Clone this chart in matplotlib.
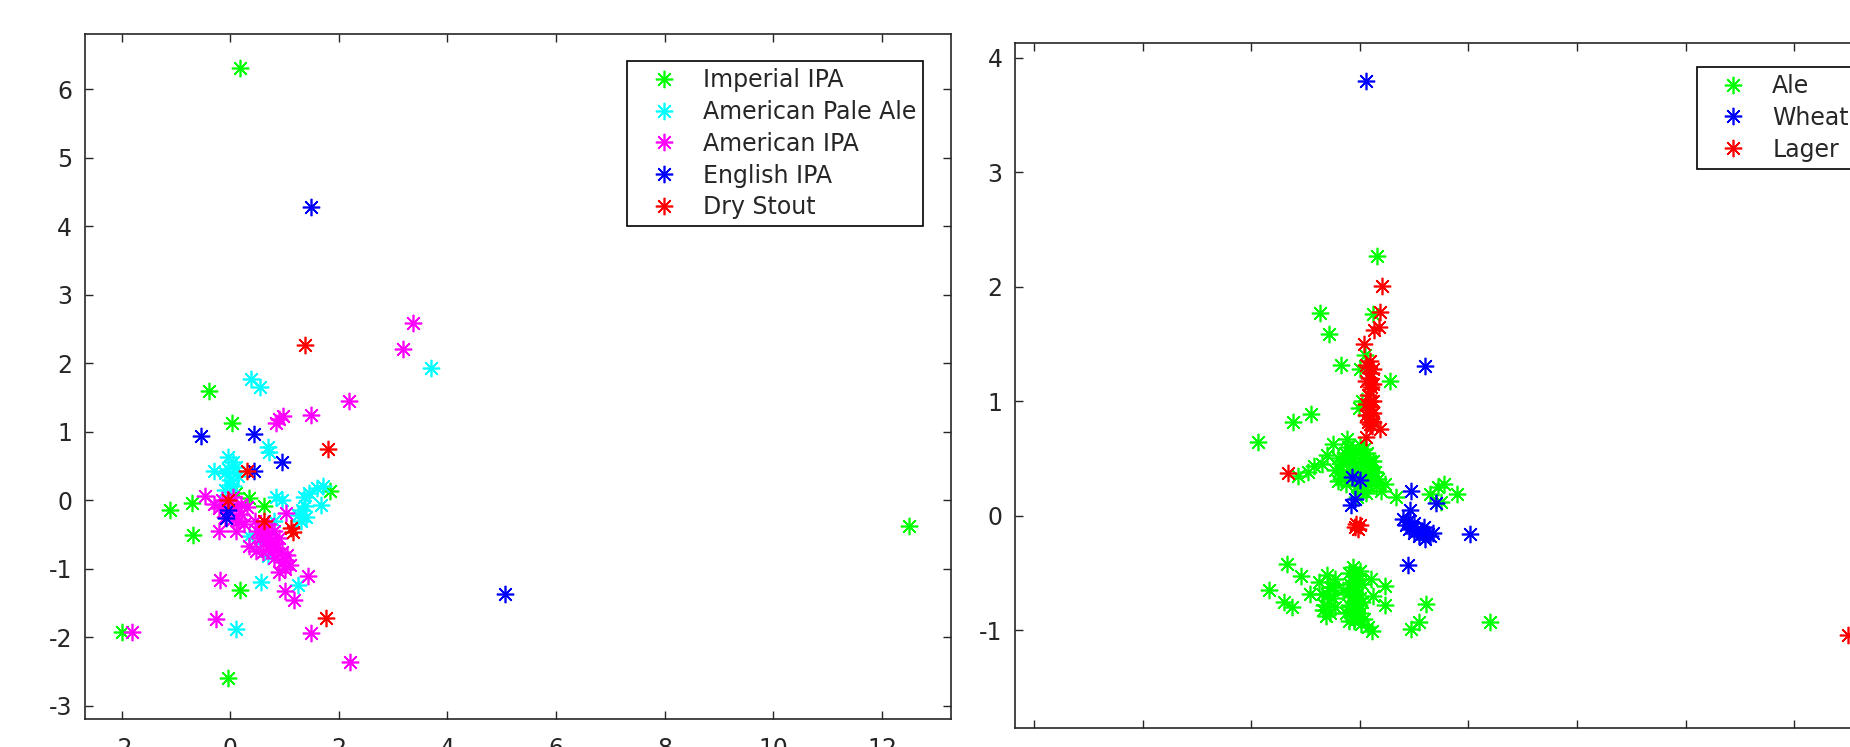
import numpy as np
import matplotlib
matplotlib.use("Agg")
import matplotlib.pyplot as plt

plt.rcParams['font.family'] = ['DejaVu Sans']
plt.rcParams['axes.unicode_minus'] = False

# ---- left panel: beer styles ----
imperial_ipa = [(0.18, 6.31), (-0.40, 1.60), (0.04, 1.12), (-1.11, -0.14), (-0.71, -0.04),
                (-0.68, -0.51), (0.18, -1.31), (-0.04, -2.60), (1.84, 0.14), (0.35, 0.03),
                (0.63, -0.08), (-2.00, -1.93), (12.50, -0.38), (0.10, 0.10)]
american_pale_ale = [(3.69, 1.93), (0.38, 1.77), (0.55, 1.65), (0.69, 0.78), (0.72, 0.70),
                     (-0.05, 0.63), (-0.30, 0.43), (-0.05, 0.45), (0.05, 0.55), (0.00, 0.30),
                     (0.05, 0.20), (-0.10, 0.15), (0.15, 0.35), (0.00, 0.22), (0.84, 0.05),
                     (0.95, 0.00), (1.35, 0.04), (1.70, 0.20), (1.60, 0.18), (1.37, -0.08),
                     (1.40, -0.25), (1.67, -0.07), (1.33, -0.15), (1.25, -0.22), (0.70, -0.81),
                     (0.56, -1.20), (1.25, -1.24), (0.10, -1.88), (0.55, -0.60), (0.35, -0.52),
                     (0.80, -0.30), (-0.10, 0.40), (0.10, 0.48), (1.45, 0.10), (1.30, -0.30)]
american_ipa = [(3.36, 2.59), (3.18, 2.21), (2.18, 1.45), (1.48, 1.25), (0.97, 1.23),
                (0.84, 1.12), (0.90, 1.18), (-0.46, 0.06), (-0.18, -1.17), (1.44, -1.11),
                (1.00, -1.33), (1.18, -1.46), (-0.26, -1.74), (1.48, -1.94), (2.21, -2.36),
                (-1.81, -1.93), (1.03, -0.19), (-0.20, -0.45), (0.10, -0.45), (0.35, -0.67),
                (0.47, -0.74), (-0.15, 0.00), (-0.05, -0.05), (0.00, -0.15), (0.10, -0.10),
                (0.20, -0.20), (0.15, -0.30), (0.25, -0.35), (-0.10, -0.25), (0.30, -0.10),
                (-0.30, -0.05), (0.05, 0.05), (0.60, -0.40), (0.70, -0.50), (0.80, -0.45),
                (0.65, -0.60), (0.75, -0.65), (0.85, -0.70), (0.90, -0.55), (0.55, -0.55),
                (0.60, -0.75), (0.80, -0.85), (0.95, -0.90), (1.00, -1.00), (1.10, -0.95),
                (0.90, -1.05), (1.05, -0.80), (0.50, -0.45), (0.70, -0.35), (0.45, -0.30),
                (-0.20, -0.12), (0.05, -0.28), (0.20, -0.05), (0.65, -0.45), (0.75, -0.58),
                (0.70, -0.72), (0.85, -0.62), (0.95, -0.75), (0.60, -0.52), (1.00, -0.88)]
english_ipa = [(1.49, 4.28), (-0.53, 0.93), (0.44, 0.96), (0.95, 0.55), (0.43, 0.42),
               (-0.08, -0.26), (5.05, -1.37), (-0.05, -0.15)]
dry_stout = [(1.37, 2.26), (1.80, 0.74), (0.30, 0.42), (-0.04, 0.00), (0.63, -0.31),
             (1.12, -0.41), (1.15, -0.47), (1.77, -1.72)]

left_labels = ['Imperial IPA', 'American Pale Ale', 'American IPA', 'English IPA', 'Dry Stout']
left_series = [imperial_ipa, american_pale_ale, american_ipa, english_ipa, dry_stout]
left_colors = [(0, 1, 0), (0, 1, 1), (1, 0, 1), (0, 0, 1), (1, 0, 0)]

# ---- right panel: beer families ----
ale = [(0.32, 2.27), (-0.74, 1.77), (-0.56, 1.59), (-0.34, 1.32), (0.55, 1.18), (0.25, 1.76),
       (-0.89, 0.89), (-1.22, 0.82), (-1.88, 0.64), (0.01, 1.28), (0.10, 1.40), (0.15, 1.30),
       (-0.02, 0.94), (0.05, 1.00),
       (-1.13, 0.35), (-0.85, 0.43), (-0.60, 0.53), (-0.50, 0.63), (-0.23, 0.67), (-0.95, 0.38),
       (-0.70, 0.45),
       (-0.45, 0.40), (-0.40, 0.50), (-0.35, 0.32), (-0.30, 0.45), (-0.28, 0.55), (-0.25, 0.28),
       (-0.20, 0.40), (-0.18, 0.50), (-0.15, 0.58), (-0.12, 0.35), (-0.08, 0.45), (-0.05, 0.26),
       (-0.02, 0.55), (0.00, 0.40), (0.02, 0.30), (0.05, 0.50), (0.05, 0.22), (0.10, 0.35),
       (0.10, 0.45), (0.14, 0.55), (0.15, 0.28), (0.20, 0.40), (0.20, 0.32), (0.24, 0.48),
       (0.28, 0.38), (0.30, 0.26), (0.33, 0.32), (-0.05, 0.16), (0.00, 0.62), (-0.40, 0.30),
       (0.05, 0.36), (-0.15, 0.50), (0.12, 0.20), (-0.30, 0.38), (-0.10, 0.30), (0.08, 0.58),
       (0.18, 0.48), (-0.22, 0.60), (0.25, 0.38), (-0.35, 0.48), (0.00, 0.48),
       (0.47, 0.28), (0.66, 0.16), (0.39, 0.22), (1.55, 0.28), (1.80, 0.19), (1.30, 0.19),
       (1.49, 0.12), (1.45, 0.25),
       (-1.34, -0.42), (-1.08, -0.53), (-1.67, -0.65), (-1.40, -0.75), (-1.25, -0.80),
       (-0.91, -0.68), (0.23, -1.01), (0.47, -0.61), (0.47, -0.78), (1.22, -0.77), (1.10, -0.93),
       (0.95, -0.99), (2.40, -0.93), (0.20, -0.55), (0.25, -0.70),
       (-0.75, -0.58), (-0.70, -0.68), (-0.65, -0.78), (-0.60, -0.52), (-0.55, -0.62),
       (-0.55, -0.85), (-0.50, -0.72), (-0.45, -0.55), (-0.45, -0.80), (-0.68, -0.82),
       (-0.60, -0.68), (-0.50, -0.62), (-0.62, -0.88),
       (-0.20, -0.50), (-0.10, -0.52), (0.00, -0.48), (-0.18, -0.60), (-0.05, -0.62),
       (-0.15, -0.70), (0.00, -0.72), (-0.20, -0.78), (-0.08, -0.80), (-0.15, -0.88),
       (0.00, -0.85), (-0.10, -0.92), (-0.20, -0.92), (0.02, -0.95), (-0.05, -0.68),
       (-0.12, -0.45), (0.05, -0.60), (0.08, -0.90), (0.15, -0.97), (-0.30, -0.65),
       (-0.12, -0.58), (-0.02, -0.55), (-0.12, -0.75), (-0.02, -0.78), (-0.18, -0.84),
       (-0.05, -0.88), (-0.22, -0.68), (0.05, -0.75), (-0.25, -0.85), (-0.10, -0.65)]
wheat = [(0.11, 3.80), (1.21, 1.31), (2.03, -0.16), (0.89, -0.43), (0.95, 0.22), (1.41, 0.11),
         (-0.14, 0.34), (0.00, 0.31), (-0.17, 0.09), (-0.08, 0.15), (0.92, 0.05),
         (0.80, -0.03), (0.85, -0.08), (0.90, -0.12), (0.95, -0.10), (1.00, -0.15),
         (1.05, -0.12), (1.10, -0.18), (1.15, -0.14), (1.20, -0.20), (1.25, -0.16),
         (1.30, -0.18), (1.35, -0.15), (0.88, -0.05), (1.00, -0.06), (1.18, -0.10)]
lager = [(0.41, 2.01), (0.38, 1.78), (0.35, 1.65), (0.26, 1.62), (0.07, 1.50),
         (0.18, 1.35), (0.15, 1.30), (0.20, 1.25), (0.17, 1.20), (0.18, 1.15), (0.20, 1.12),
         (0.15, 1.05), (0.18, 1.00), (0.20, 0.95), (0.16, 0.92), (0.18, 0.88), (0.20, 0.85),
         (0.15, 0.82), (0.18, 0.80), (0.22, 0.78), (0.38, 0.76), (0.12, 0.69),
         (0.12, 1.32), (0.25, 1.28), (0.12, 1.18), (0.25, 1.15), (0.12, 0.98), (0.25, 1.00),
         (0.12, 0.88), (0.25, 0.90), (0.25, 0.82),
         (-1.33, 0.37), (-0.06, -0.07), (-0.08, -0.10), (-0.03, -0.12), (0.00, -0.08),
         (9.00, -1.04)]

right_labels = ['Ale', 'Wheat', 'Lager']
right_series = [ale, wheat, lager]
right_colors = [(0, 1, 0), (0, 0, 1), (1, 0, 0)]

ink = '#262626'
fs = 17
marker = (8, 2, 0)

fig = plt.figure(figsize=(18.5, 7.47), dpi=100)
ax1 = fig.add_axes([0.0458, 0.037, 0.4682, 0.917])
ax2 = fig.add_axes([0.5486, 0.0261, 0.4682, 0.9165])


def draw(ax, series, labels, colors):
    for pts, lab, col in zip(series, labels, colors):
        a = np.array(pts)
        ax.plot(a[:, 0], a[:, 1], linestyle='none', marker=marker, markersize=12.5,
                markeredgewidth=1.2, color=col, label=lab)


def style(ax, xlim, ylim, xticks, yticks, anchor):
    ax.set_xlim(*xlim)
    ax.set_ylim(*ylim)
    ax.set_xticks(xticks)
    ax.set_yticks(yticks)
    ax.tick_params(direction='in', length=6, width=1, colors=ink, labelsize=fs,
                   top=True, right=True)
    ax.tick_params(axis='x', pad=13)
    ax.tick_params(axis='y', pad=9)
    for s in ax.spines.values():
        s.set_color(ink)
        s.set_linewidth(1.2)
    leg = ax.legend(loc='upper left', bbox_to_anchor=anchor, borderaxespad=0,
                    fontsize=fs, frameon=True, fancybox=False, framealpha=1,
                    edgecolor='black', borderpad=0.3, handlelength=2.5,
                    handletextpad=0.4, labelspacing=0.33)
    leg.get_frame().set_linewidth(1.2)
    for t in leg.get_texts():
        t.set_color(ink)


draw(ax1, left_series, left_labels, left_colors)
style(ax1, (-2.68, 13.27), (-3.2, 6.8), np.arange(-2, 13, 2), np.arange(-3, 7, 1), (0.626, 0.961))

draw(ax2, right_series, right_labels, right_colors)
style(ax2, (-6.35, 9.6), (-1.85, 4.13), np.arange(-6, 9, 2), np.arange(-1, 5, 1), (0.787, 0.965))

fig.savefig('out.png', dpi=100)
